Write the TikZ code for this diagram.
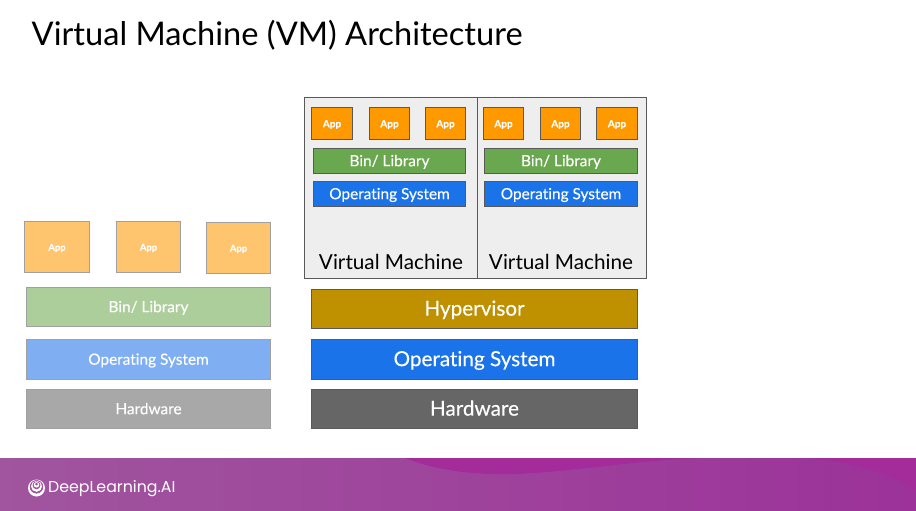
\documentclass[tikz,border=0pt]{standalone}
\usepackage{fontspec}
\setmainfont{Lato}[Ligatures=NoCommon]
\newfontfamily\whitefont{Lato}[Ligatures=NoCommon,FakeBold=0.25]
\newfontfamily\logofont{Poppins}
\definecolor{appF}{HTML}{FF9900}
\definecolor{appL}{HTML}{FFC46E}
\definecolor{binF}{HTML}{6AA84F}
\definecolor{binL}{HTML}{ACCE9B}
\definecolor{osF}{HTML}{1A73E8}
\definecolor{osL}{HTML}{7FAFF2}
\definecolor{hwF}{HTML}{666666}
\definecolor{hwL}{HTML}{A8A8A8}
\definecolor{hypF}{HTML}{BF9000}
\definecolor{vmF}{HTML}{EEEEEE}
\definecolor{edgeD}{HTML}{595959}
\definecolor{edgeL}{HTML}{A0A0A0}
\definecolor{barL}{HTML}{A0559E}
\definecolor{barR}{HTML}{9C329A}
\definecolor{waveC}{HTML}{A42C9A}
\tikzset{
  box/.style={draw=edgeD,line width=0.8pt,outer sep=0pt},
  lbox/.style={draw=edgeL,line width=0.8pt,outer sep=0pt},
  ring/.style={circle,inner sep=0pt,outer sep=0pt},
}
\newcommand{\bx}[9]{% style,name,x0,y0,x1,y1,fill,size,text
  \node[#1,fill=#7,text=white,inner sep=0pt,minimum width=#5pt-#3pt,minimum height=#6pt-#4pt,anchor=north west,
        font=\whitefont\fontsize{#8}{#8}\selectfont] (#2) at (#3,#4) {\vphantom{Apg}\raisebox{-1.1pt}[0pt][0pt]{#9}};}
\begin{document}
\begin{tikzpicture}[x=1pt,y=-1pt]
\useasboundingbox (0,0) rectangle (916,511);
\fill[white] (0,0) rectangle (916,511);
% footer
\shade[left color=barL,right color=barR] (0,458) rectangle (916,511);
\fill[waveC] (405,458) .. controls (440,472) and (480,475) .. (515,474) .. controls (570,472) and (640,460) .. (700,458) -- cycle;
\fill[waveC] (810,458) .. controls (855,463) and (895,475) .. (916,490) -- (916,458) -- cycle;
% logo
\node[ring,fill=white,minimum size=17pt] (logo) at (36.5,488) {};
\node[ring,fill=barL,minimum size=13.5pt] (logoa) at (36.5,486.8) {};
\node[ring,fill=white,minimum size=11pt] (logob) at (36.5,486.3) {};
\node[ring,fill=barL,minimum size=8pt] (logoc) at (36.5,485.3) {};
\node[ring,fill=white,minimum size=5.5pt] (logod) at (36.5,484.8) {};
\node[ring,fill=barL,minimum size=3pt] (logoe) at (36.5,484) {};
\node[anchor=west,text=white,inner sep=0pt,font=\logofont\fontsize{15.8}{18}\selectfont] (brand) at (48,488.5) {DeepLearning.AI};
% title
\node[anchor=base west,inner sep=0pt,font=\fontsize{32.6}{38}\selectfont] (title) at (31.5,45.5) {Virtual Machine (VM) Architecture};
% left stack
\bx{lbox}{la}{24.5}{221.5}{89.5}{272.5}{appL}{9.4}{\bfseries App}
\bx{lbox}{lb}{116.5}{221.5}{180.5}{272.5}{appL}{9.4}{\bfseries App}
\bx{lbox}{lc}{206.5}{222.5}{270.5}{273.5}{appL}{9.4}{\bfseries App}
\bx{lbox}{lbin}{26.5}{287.5}{270.5}{326.5}{binL}{15.4}{Bin/ Library}
\bx{lbox}{los}{26.5}{339.5}{270.5}{379.5}{osL}{15.4}{Operating System}
\bx{lbox}{lhw}{26.5}{389.5}{270.5}{428.5}{hwL}{15.4}{Hardware}
% vm frames
\node[box,fill=vmF,inner sep=0pt,minimum width=173pt,minimum height=181pt,anchor=north west] (vm1) at (304.5,97.5) {};
\node[box,fill=vmF,inner sep=0pt,minimum width=169pt,minimum height=181pt,anchor=north west] (vm2) at (477.5,97.5) {};
\node[anchor=base,inner sep=0pt,font=\fontsize{20.7}{25}\selectfont] (vm1t) at (391,269) {Virtual Machine};
\node[anchor=base,inner sep=0pt,font=\fontsize{20.7}{25}\selectfont] (vm2t) at (561,269) {Virtual Machine};
% vm 1
\bx{box}{a1}{311.5}{107.5}{352.5}{139.5}{appF}{10}{\bfseries App}
\bx{box}{a2}{369.5}{107.5}{409.5}{139.5}{appF}{10}{\bfseries App}
\bx{box}{a3}{425.5}{107.5}{465.5}{139.5}{appF}{10}{\bfseries App}
\bx{box}{b1}{313.5}{148.5}{465.5}{173.5}{binF}{15.4}{Bin/ Library}
\bx{box}{o1}{313.5}{181.5}{465.5}{206.5}{osF}{15.4}{Operating System}
% vm 2
\bx{box}{a4}{483.5}{107.5}{523.5}{139.5}{appF}{10}{\bfseries App}
\bx{box}{a5}{540.5}{107.5}{580.5}{139.5}{appF}{10}{\bfseries App}
\bx{box}{a6}{596.5}{107.5}{637.5}{139.5}{appF}{10}{\bfseries App}
\bx{box}{b2}{484.5}{148.5}{637.5}{173.5}{binF}{15.4}{Bin/ Library}
\bx{box}{o2}{484.5}{181.5}{637.5}{206.5}{osF}{15.4}{Operating System}
% base stack
\bx{box}{hyp}{311.5}{289.5}{637.5}{328.5}{hypF}{20.7}{Hypervisor}
\bx{box}{os}{311.5}{339.5}{637.5}{379.5}{osF}{20.7}{Operating System}
\bx{box}{hw}{311.5}{389.5}{637.5}{428.5}{hwF}{20.7}{Hardware}
\end{tikzpicture}
\end{document}
